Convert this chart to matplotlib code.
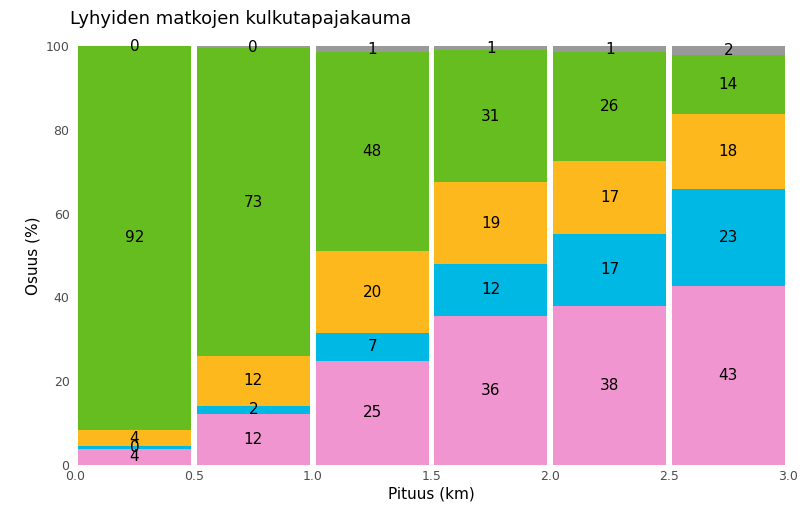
import matplotlib.pyplot as plt
import numpy as np

# distance classes (bar centres, km) and mode shares (%)
x = [0.25, 0.75, 1.25, 1.75, 2.25, 2.75]
pink = [3.8, 12.2, 24.8, 35.6, 38.0, 42.7]
blue = [0.6, 1.9, 6.7, 12.4, 17.1, 23.2]
yellow = [4.0, 11.9, 19.5, 19.5, 17.4, 17.9]
green = [91.6, 73.5, 47.6, 31.5, 26.1, 14.1]
grey = [0.0, 0.5, 1.4, 1.0, 1.4, 2.1]
labels = [
    [4, 12, 25, 36, 38, 43],
    [0, 2, 7, 12, 17, 23],
    [4, 12, 20, 19, 17, 18],
    [92, 73, 48, 31, 26, 14],
    [0, 0, 1, 1, 1, 2],
]
colors = ['#F095D0', '#00B8E4', '#FDB81E', '#66BD1F', '#999999']

fig = plt.figure(figsize=(8.08, 5.08), dpi=100)
ax = fig.add_axes([0.093, 0.085, 0.882, 0.824])

bottom = np.zeros(len(x))
for vals, lab, col in zip([pink, blue, yellow, green, grey], labels, colors):
    vals = np.array(vals)
    ax.bar(x, vals, width=0.475, bottom=bottom, color=col, linewidth=0)
    for xi, b, v, t in zip(x, bottom, vals, lab):
        ax.text(xi, b + v / 2, str(t), ha='center', va='center', fontsize=11, color='black')
    bottom += vals

ax.set_xlim(0, 3)
ax.set_ylim(0, 100)
ax.set_xticks([0, 0.5, 1, 1.5, 2, 2.5, 3])
ax.set_xticklabels(['0.0', '0.5', '1.0', '1.5', '2.0', '2.5', '3.0'])
ax.set_yticks([0, 20, 40, 60, 80, 100])
ax.tick_params(length=0, colors='#4d4d4d', labelsize=9, pad=4)
for s in ax.spines.values():
    s.set_visible(False)
ax.set_xlabel('Pituus (km)', fontsize=11, labelpad=2)
ax.set_ylabel('Osuus (%)', fontsize=11, labelpad=4)
fig.text(0.087, 0.963, 'Lyhyiden matkojen kulkutapajakauma', fontsize=13, ha='left', va='center')

fig.savefig('out.png', dpi=100)
